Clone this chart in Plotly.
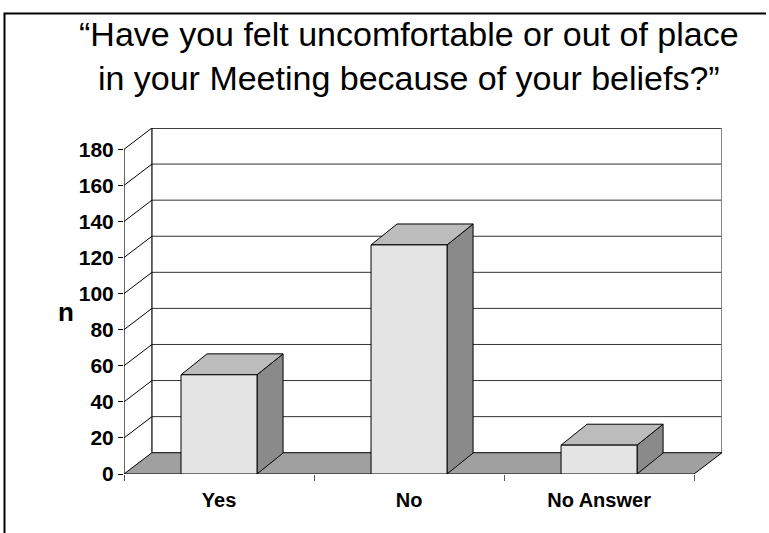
import plotly.graph_objects as go

# ---- data ----
categories = ["Yes", "No", "No Answer"]
counts = [55, 127, 16]
y_ticks = [0, 20, 40, 60, 80, 100, 120, 140, 160, 180]
y_max = 180
title_text = "\u201cHave you felt uncomfortable or out of place<br>in your Meeting because of your beliefs?\u201d"
y_title = "n"

# ---- pseudo-3D styling (in axis units) ----
W = 769
H = 533
ML, MR, MT, MB = 124, 47, 128, 59
WALL_DX = 0.147      # depth offset of the back wall (x units)
WALL_DY = 11.8       # depth offset of the back wall (y units)
BAR_DX = 0.137
BAR_DY = 11.6
BAR_W = 0.4
n = len(categories)
xs = list(range(n))
x_lo, x_hi = -0.5, n - 0.5

FRONT = "#e4e4e4"
TOP = "#bcbcbc"
SIDE = "#8a8a8a"
FLOOR = "#a0a0a0"
FONT = "Liberation Sans, Arial, sans-serif"

shapes = []
# back wall
shapes.append(dict(type="rect", xref="x", yref="y", layer="below",
                   x0=x_lo + WALL_DX, x1=x_hi + WALL_DX, y0=WALL_DY, y1=y_max + WALL_DY,
                   fillcolor="white", line=dict(width=0)))
# back wall gridlines
for v in y_ticks[1:-1]:
    shapes.append(dict(type="line", xref="x", yref="y", layer="below",
                       x0=x_lo + WALL_DX, x1=x_hi + WALL_DX, y0=v + WALL_DY, y1=v + WALL_DY,
                       line=dict(color="#333333", width=1)))
# top edge of back wall
shapes.append(dict(type="line", xref="x", yref="y", layer="below",
                   x0=x_lo + WALL_DX, x1=x_hi + WALL_DX, y0=y_max + WALL_DY, y1=y_max + WALL_DY,
                   line=dict(color="black", width=1.5)))
# left edge of back wall
shapes.append(dict(type="line", xref="x", yref="y", layer="below",
                   x0=x_lo + WALL_DX, x1=x_lo + WALL_DX, y0=WALL_DY, y1=y_max + WALL_DY,
                   line=dict(color="black", width=1.2)))
# right edge of back wall
shapes.append(dict(type="line", xref="x", yref="y", layer="below",
                   x0=x_hi + WALL_DX, x1=x_hi + WALL_DX, y0=WALL_DY, y1=y_max + WALL_DY,
                   line=dict(color="#7a7a7a", width=1.8)))
# left wall diagonal gridlines
for v in y_ticks[1:]:
    shapes.append(dict(type="line", xref="x", yref="y", layer="below",
                       x0=x_lo, x1=x_lo + WALL_DX, y0=v, y1=v + WALL_DY,
                       line=dict(color="black", width=1)))
# floor
shapes.append(dict(type="path", xref="x", yref="y", layer="below",
                   path=f"M {x_lo},0 L {x_hi},0 L {x_hi + WALL_DX},{WALL_DY} L {x_lo + WALL_DX},{WALL_DY} Z",
                   fillcolor=FLOOR, line=dict(color="black", width=1)))
# front value axis line
shapes.append(dict(type="line", xref="x", yref="y", layer="below",
                   x0=x_lo, x1=x_lo, y0=0, y1=y_max,
                   line=dict(color="black", width=1.2)))
# bar side and top faces
for x, v in zip(xs, counts):
    r = x + BAR_W / 2
    l = x - BAR_W / 2
    shapes.append(dict(type="path", xref="x", yref="y", layer="below",
                       path=f"M {r},0 L {r + BAR_DX},{BAR_DY} L {r + BAR_DX},{v + BAR_DY} L {r},{v} Z",
                       fillcolor=SIDE, line=dict(color="black", width=1)))
    shapes.append(dict(type="path", xref="x", yref="y", layer="below",
                       path=f"M {l},{v} L {r},{v} L {r + BAR_DX},{v + BAR_DY} L {l + BAR_DX},{v + BAR_DY} Z",
                       fillcolor=TOP, line=dict(color="black", width=1)))

# outer frame (left + top)
pw = W - ML - MR
ph = H - MT - MB
def px(xpix):
    return (xpix - ML) / pw
def py(ypix):
    return (H - MB - ypix) / ph
shapes.append(dict(type="path", xref="paper", yref="paper", layer="above",
                   path=f"M {px(4.5)},{py(540)} L {px(4.5)},{py(13.5)} L {px(766)},{py(13.5)}",
                   line=dict(color="black", width=2)))

fig = go.Figure()
fig.add_trace(go.Bar(x=xs, y=counts, width=BAR_W,
                     marker=dict(color=FRONT, line=dict(color="black", width=1)),
                     hoverinfo="skip"))

annotations = [
    dict(text=title_text, xref="paper", yref="paper", x=px(409), y=py(56),
         xanchor="center", yanchor="middle", showarrow=False,
         font=dict(family=FONT, size=34, color="black")),
    dict(text=y_title, xref="paper", yref="paper", x=px(66), y=py(312),
         xanchor="center", yanchor="middle", showarrow=False,
         font=dict(family=FONT, size=26, color="black", weight="bold")),
]

fig.update_layout(
    width=W, height=H, autosize=False,
    margin=dict(l=ML, r=MR, t=MT, b=MB, pad=0),
    paper_bgcolor="white", plot_bgcolor="white",
    showlegend=False,
    shapes=shapes,
    annotations=annotations,
    xaxis=dict(range=[x_lo, x_hi + WALL_DX], tickmode="array", tickvals=xs, ticktext=categories,
               ticks="", showgrid=False, zeroline=False, showline=False,
               tickfont=dict(family=FONT, size=20, color="black", weight="bold"),
               ticklabelstandoff=12,
               minor=dict(tickmode="array", tickvals=[x_lo + i for i in range(n + 1)],
                          ticks="outside", ticklen=6, tickcolor="#555555", tickwidth=1, showgrid=False)),
    yaxis=dict(range=[0, y_max + WALL_DY], tickmode="array", tickvals=y_ticks,
               ticks="outside", ticklen=5, tickcolor="black", tickwidth=1,
               showgrid=False, zeroline=False, showline=False,
               tickfont=dict(family=FONT, size=21, color="black", weight="bold")),
)

fig.write_html("out.html", config={"displayModeBar": False},
               post_script="document.body.style.margin='0';document.body.style.overflow='hidden';")
